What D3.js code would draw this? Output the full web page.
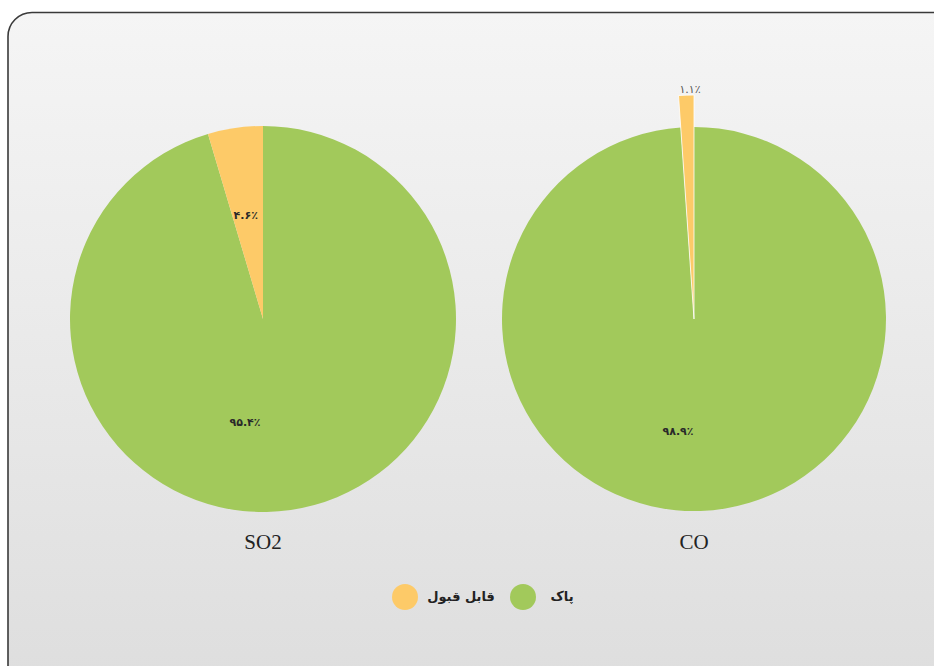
<!DOCTYPE html>
<html><head><meta charset="utf-8">
<script src="https://cdn.jsdelivr.net/npm/d3@7"></script>
<style>body{margin:0;background:#fff}svg{display:block}</style>
</head><body>
<svg id="c" width="934" height="666"></svg>
<script>
const categories = ["پاک", "قابل قبول"];
const pollutants = ["SO2", "CO"];
const so2Values = [95.4, 4.6];
const coValues = [98.9, 1.1];
const so2Labels = ["۹۵.۴٪", "۴.۶٪"];
const coLabels = ["۹۸.۹٪", "۱.۱٪"];
const colors = ["#a2c95b", "#fdca68"];

const svg = d3.select("#c");
const defs = svg.append("defs");
const g = defs.append("linearGradient").attr("id","bg").attr("x1",0).attr("y1",0).attr("x2",0).attr("y2",1);
g.append("stop").attr("offset","0%").attr("stop-color","#f5f5f5");
g.append("stop").attr("offset","100%").attr("stop-color","#dddddd");
svg.append("rect").attr("x",8).attr("y",12.5).attr("width",960).attr("height",700)
  .attr("rx",24).attr("fill","url(#bg)").attr("stroke","#3a3a3a").attr("stroke-width",1.6);

const color = d3.scaleOrdinal().domain(categories).range(colors);
const pie = d3.pie().sort(null);

const charts = [
  {name: pollutants[0], values: so2Values, labels: so2Labels, cx: 263, cy: 319, r: 193, outerSmall: false, mainOff: [-18, 104]},
  {name: pollutants[1], values: coValues, labels: coLabels, cx: 694, cy: 319, r: 192, outerSmall: true, mainOff: [-16, 113]}
];

charts.forEach(ch => {
  const grp = svg.append("g").attr("transform", `translate(${ch.cx},${ch.cy})`);
  const arcs = pie(ch.values);
  arcs.forEach((a, i) => {
    const outer = (ch.outerSmall && i === 1) ? ch.r + 32 : ch.r;
    const arc = d3.arc().innerRadius(0).outerRadius(outer);
    grp.append("path").attr("d", arc(a)).attr("fill", color(categories[i]))
      .attr("stroke", i === 1 ? "#ffffff" : "none").attr("stroke-width", i===1 && ch.outerSmall ? 0.8 : 0);
  });
  arcs.forEach((a, i) => {
    let x, y;
    if (i === 0) {
      x = ch.mainOff[0]; y = ch.mainOff[1];
    } else if (!ch.outerSmall) {
      const mid = (a.startAngle + a.endAngle)/2;
      const rr = ch.r * 0.55;
      x = Math.sin(mid) * rr - 2; y = -Math.cos(mid) * rr + 2;
    } else {
      x = -4; y = -ch.r - 37;
    }
    grp.append("text").attr("x", x).attr("y", y).attr("text-anchor","middle")
      .attr("dominant-baseline","middle")
      .attr("font-family","DejaVu Sans, sans-serif").attr("font-size", 11).attr("font-weight", (ch.outerSmall && i===1) ? "normal" : "bold")
      .attr("fill", (ch.outerSmall && i===1) ? "#555" : "#2a2a2a").text(ch.labels[i]);
  });
  svg.append("text").attr("x", ch.cx).attr("y", 544).attr("text-anchor","middle")
    .attr("dominant-baseline","middle")
    .attr("font-family","Liberation Serif, serif").attr("font-size", 21).attr("fill","#222").text(ch.name);
});

// legend
const legend = [
  {cat: categories[1], cx: 405, tx: 461},
  {cat: categories[0], cx: 523, tx: 562}
];
legend.forEach(l => {
  svg.append("circle").attr("cx", l.cx).attr("cy", 597).attr("r", 13).attr("fill", color(l.cat));
  svg.append("text").attr("x", l.tx).attr("y", 597).attr("text-anchor","middle")
    .attr("dominant-baseline","middle").attr("direction","rtl")
    .attr("font-family","DejaVu Sans, sans-serif").attr("font-size", 13).attr("font-weight","bold").attr("fill","#222").text(l.cat);
});
</script>
</body></html>
